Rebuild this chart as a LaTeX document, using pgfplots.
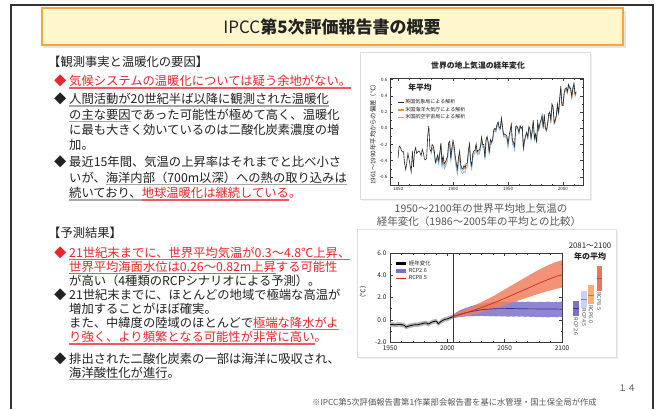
\documentclass[border=0pt]{standalone}
\usepackage{fontspec}
\setmainfont{Noto Sans CJK JP}
\usepackage{pgfplots}
\pgfplotsset{compat=1.18}
\usepackage{pgfplotstable}

\definecolor{txt}{HTML}{222222}
\definecolor{jred}{HTML}{E8262C}
\definecolor{jredul}{HTML}{EC5A60}
\definecolor{ulgray}{HTML}{A8A8A8}
\definecolor{titlefill}{HTML}{FFF7CC}
\definecolor{titledraw}{HTML}{F5A640}
\definecolor{capgray}{HTML}{555555}
\definecolor{frame}{HTML}{333333}
\definecolor{boxgray}{HTML}{DDDDDD}
\definecolor{axgray}{HTML}{3A3A3A}
\definecolor{hadc}{HTML}{2A2A2A}
\definecolor{noaac}{HTML}{F08C3C}
\definecolor{gissc}{HTML}{78B8EC}
\definecolor{histband}{HTML}{B4B4B4}
\definecolor{c26fill}{HTML}{8E86D0}
\definecolor{c26line}{HTML}{34309A}
\definecolor{c85fill}{HTML}{F08060}
\definecolor{c85line}{HTML}{D42A1E}
\definecolor{b26}{HTML}{7D72C0}
\definecolor{b45}{HTML}{C4D4F0}
\definecolor{b60}{HTML}{F6B074}
\definecolor{b85}{HTML}{EE7358}

\newcommand\fs[1]{\fontsize{#1}{#1}\selectfont}
\newcommand\ug[1]{\setbox0\hbox{#1}\rlap{\color{ulgray}\rule[-3pt]{\wd0}{1.6pt}}\box0}
\newcommand\ur[1]{\setbox0\hbox{\color{jred}#1}\rlap{\color{jredul}\rule[-3pt]{\wd0}{1.6pt}}\box0}

\pgfplotstableread{
year had noaa giss
1850 -0.37 nan nan
1851 -0.22 nan nan
1852 -0.23 nan nan
1853 -0.27 nan nan
1854 -0.29 nan nan
1855 -0.29 nan nan
1856 -0.44 nan nan
1857 -0.51 nan nan
1858 -0.42 nan nan
1859 -0.31 nan nan
1860 -0.38 nan nan
1861 -0.46 nan nan
1862 -0.54 nan nan
1863 -0.28 nan nan
1864 -0.48 nan nan
1865 -0.29 nan nan
1866 -0.24 nan nan
1867 -0.31 nan nan
1868 -0.29 nan nan
1869 -0.28 nan nan
1870 -0.30 nan nan
1871 -0.34 nan nan
1872 -0.26 nan nan
1873 -0.30 nan nan
1874 -0.38 nan nan
1875 -0.39 nan nan
1876 -0.37 nan nan
1877 -0.09 nan nan
1878 0.03 nan nan
1879 -0.26 nan nan
1880 -0.29 -0.31 -0.33
1881 -0.20 -0.24 -0.25
1882 -0.22 -0.25 -0.27
1883 -0.28 -0.31 -0.32
1884 -0.42 -0.40 -0.43
1885 -0.38 -0.39 -0.41
1886 -0.33 -0.36 -0.37
1887 -0.40 -0.43 -0.45
1888 -0.30 -0.32 -0.33
1889 -0.18 -0.20 -0.22
1890 -0.43 -0.45 -0.48
1891 -0.34 -0.37 -0.40
1892 -0.44 -0.47 -0.50
1893 -0.42 -0.45 -0.48
1894 -0.38 -0.41 -0.44
1895 -0.35 -0.37 -0.40
1896 -0.18 -0.20 -0.24
1897 -0.16 -0.19 -0.22
1898 -0.37 -0.39 -0.42
1899 -0.24 -0.26 -0.29
1900 -0.15 -0.18 -0.21
1901 -0.22 -0.25 -0.28
1902 -0.34 -0.37 -0.41
1903 -0.43 -0.46 -0.50
1904 -0.50 -0.53 -0.57
1905 -0.36 -0.39 -0.43
1906 -0.28 -0.31 -0.35
1907 -0.45 -0.48 -0.52
1908 -0.49 -0.51 -0.55
1909 -0.50 -0.52 -0.56
1910 -0.46 -0.49 -0.53
1911 -0.49 -0.51 -0.55
1912 -0.43 -0.46 -0.49
1913 -0.43 -0.45 -0.48
1914 -0.27 -0.29 -0.32
1915 -0.19 -0.22 -0.25
1916 -0.40 -0.42 -0.45
1917 -0.46 -0.48 -0.51
1918 -0.31 -0.34 -0.37
1919 -0.28 -0.30 -0.33
1920 -0.27 -0.29 -0.31
1921 -0.19 -0.22 -0.24
1922 -0.29 -0.31 -0.33
1923 -0.27 -0.29 -0.31
1924 -0.27 -0.30 -0.32
1925 -0.22 -0.24 -0.26
1926 -0.11 -0.13 -0.15
1927 -0.20 -0.22 -0.24
1928 -0.20 -0.22 -0.23
1929 -0.36 -0.37 -0.39
1930 -0.14 -0.16 -0.17
1931 -0.10 -0.12 -0.13
1932 -0.17 -0.18 -0.19
1933 -0.30 -0.31 -0.33
1934 -0.14 -0.16 -0.17
1935 -0.17 -0.18 -0.20
1936 -0.14 -0.15 -0.16
1937 -0.02 -0.04 -0.05
1938 0.00 -0.02 -0.03
1939 -0.02 -0.03 -0.05
1940 0.05 0.03 0.02
1941 0.08 0.06 0.05
1942 0.01 0.00 -0.02
1943 0.00 -0.01 -0.02
1944 0.13 0.11 0.09
1945 0.02 0.00 -0.02
1946 -0.08 -0.09 -0.11
1947 -0.07 -0.08 -0.10
1948 -0.08 -0.10 -0.12
1949 -0.10 -0.12 -0.14
1950 -0.19 -0.21 -0.24
1951 -0.09 -0.11 -0.13
1952 -0.02 -0.04 -0.06
1953 0.05 0.03 0.01
1954 -0.16 -0.18 -0.20
1955 -0.17 -0.19 -0.22
1956 -0.22 -0.24 -0.27
1957 0.02 0.00 -0.02
1958 0.03 0.02 0.01
1959 0.00 -0.01 -0.02
1960 -0.05 -0.06 -0.07
1961 0.03 0.02 0.02
1962 0.00 -0.01 -0.01
1963 0.02 0.01 0.01
1964 -0.24 -0.25 -0.27
1965 -0.15 -0.16 -0.18
1966 -0.09 -0.10 -0.11
1967 -0.05 -0.06 -0.07
1968 -0.11 -0.12 -0.13
1969 0.02 0.01 0.00
1970 -0.01 -0.02 -0.03
1971 -0.12 -0.13 -0.14
1972 -0.03 -0.04 -0.05
1973 0.10 0.08 0.07
1974 -0.12 -0.13 -0.15
1975 -0.07 -0.08 -0.09
1976 -0.17 -0.18 -0.19
1977 0.08 0.06 0.05
1978 -0.01 -0.02 -0.03
1979 0.06 0.04 0.03
1980 0.10 0.08 0.10
1981 0.16 0.13 0.15
1982 0.01 -0.01 0.00
1983 0.17 0.14 0.15
1984 0.00 -0.02 -0.01
1985 -0.02 -0.04 -0.03
1986 0.05 0.03 0.04
1987 0.18 0.15 0.16
1988 0.20 0.17 0.20
1989 0.10 0.08 0.10
1990 0.30 0.27 0.29
1991 0.26 0.23 0.26
1992 0.07 0.05 0.06
1993 0.10 0.08 0.10
1994 0.17 0.14 0.16
1995 0.30 0.27 0.29
1996 0.18 0.16 0.18
1997 0.37 0.35 0.34
1998 0.52 0.50 0.49
1999 0.29 0.28 0.30
2000 0.28 0.28 0.29
2001 0.43 0.41 0.42
2002 0.49 0.46 0.48
2003 0.50 0.48 0.48
2004 0.45 0.43 0.44
2005 0.54 0.51 0.54
2006 0.50 0.49 0.51
2007 0.49 0.46 0.51
2008 0.39 0.37 0.38
2009 0.50 0.47 0.50
2010 0.55 0.53 0.56
2011 0.42 0.39 0.42
2012 0.45 0.43 0.45
}\tempdata

\pgfplotstableread{
year mean
1950 -0.45
1952 -0.42
1954 -0.46
1956 -0.44
1958 -0.42
1960 -0.44
1962 -0.48
1963 -0.56
1964 -0.66
1965 -0.62
1966 -0.58
1968 -0.52
1970 -0.48
1972 -0.44
1974 -0.45
1976 -0.40
1978 -0.35
1980 -0.30
1982 -0.30
1983 -0.38
1984 -0.36
1986 -0.24
1988 -0.16
1990 -0.12
1991 -0.18
1992 -0.36
1993 -0.30
1994 -0.18
1996 -0.06
1998 0.04
2000 0.08
2002 0.16
2004 0.24
2005 0.28
}\histdata

\pgfplotstableread{
year r26 r85
2005 0.30 0.30
2010 0.45 0.45
2015 0.60 0.60
2020 0.72 0.75
2025 0.82 0.92
2030 0.90 1.10
2035 0.95 1.30
2040 0.98 1.50
2045 1.00 1.70
2050 1.00 1.92
2055 1.01 2.15
2060 1.00 2.38
2065 0.99 2.60
2070 0.98 2.82
2075 0.98 3.05
2080 0.97 3.28
2085 0.97 3.50
2090 0.96 3.70
2095 0.96 3.90
2100 0.95 4.05
}\projdata

\begin{document}
\begin{tikzpicture}
\begin{scope}[x=1pt,y=-1pt]
\fill[white] (0,0) rectangle (661,409);
\draw[color=frame, line width=1.3] (11,409) -- (11,5) -- (653,5) -- (653,409);
% title
\fill[black!10] (44,10.5) rectangle (625.5,47.5);
\draw[fill=titlefill, draw=titledraw, line width=1.4] (42,8) rectangle (623,45);
\node[font=\fs{17}, text=txt] at (332,26.5) {IPCC{\bfseries 第5次評価報告書の概要}};
% chart boxes
\fill[black!6] (361.5,53.5) rectangle (591.5,200.5);
\draw[draw=boxgray, fill=white] (360,52) rectangle (590,199);
\fill[black!6] (358.5,230.5) rectangle (617.5,358.5);
\draw[draw=boxgray, fill=white] (357,229) rectangle (616,357);

\begin{scope}[every node/.style={anchor=base west, inner sep=0pt, font=\fs{12.3}, text=txt}]
% block 1
\node at (48,66.7) {【観測事実と温暖化の要因】};
\node[text=jred] at (54,85.7) {◆};
\node at (69,85.7) {\ur{気候システムの温暖化については疑う余地がない。}};
\node at (54,103.7) {◆};
\node at (69,103.7) {\ug{人間活動が20世紀半ば以降に観測された温暖化}};
\node at (69,119.1) {\ug{の主な要因}であった可能性が極めて高く、温暖化};
\node at (69,134.5) {に最も大きく効いているのは二酸化炭素濃度の増};
\node at (69,149.9) {加。};
\node at (54,166.7) {◆};
\node at (69,166.7) {最近15年間、気温の上昇率はそれまでと比べ小さ};
\node at (69,182.2) {いが、\ug{海洋内部（700m以深）への熱の取り込みは}};
\node at (69,197.7) {\ug{続いており、}\ur{地球温暖化は継続している}。};
% block 2
\node at (48,237.4) {【予測結果】};
\node[text=jred] at (54,257.4) {◆};
\node at (69,257.4) {\ur{21世紀末までに、世界平均気温が0.3～4.8℃上昇、}};
\node at (69,271.2) {\ur{世界平均海面水位は0.26～0.82m上昇}する可能性};
\node at (69,285.4) {が高い（4種類のRCPシナリオによる予測）。};
\node at (54,299.0) {◆};
\node at (69,299.0) {21世紀末までに、ほとんどの地域で極端な高温が};
\node at (69,313.0) {増加することがほぼ確実。};
\node at (69,327.4) {また、中緯度の陸域のほとんどで\ur{極端な降水がよ}};
\node at (69,341.7) {\ur{り強く、より頻繁となる可能性が非常に高い}。};
\node at (54,363.0) {◆};
\node at (69,363.0) {排出された二酸化炭素の一部は海洋に吸収され、};
\node at (69,377.4) {\ug{海洋酸性化が進行}。};
\end{scope}

% captions and small texts
\node[font=\fs{10.5}, text=capgray] at (481,209) {1950～2100年の世界平均地上気温の};
\node[font=\fs{10.5}, text=capgray] at (479,221.5) {経年変化（1986～2005年の平均との比較）};
\node[font=\fs{8.3}, text=capgray, anchor=west, inner sep=0pt] at (312,402) {※IPCC第5次評価報告書第1作業部会報告書を基に水管理・国土保全局が作成};
\node[font=\fs{9}, text=capgray] at (627,388) {１４};
\node[font=\bfseries\fs{7.8}, text=txt] at (478,66) {世界の地上気温の経年変化};
\node[font=\bfseries\fs{7.8}, text=txt] at (420,88) {年平均};
\node[font=\fs{6.3}, text=txt, rotate=90] at (373,133) {1961～1990年平均からの偏差（℃）};
\node[font=\fs{6.5}, text=txt, rotate=90] at (363,292) {（℃）};
\node[font=\fs{7.8}, text=txt] at (590,246) {2081～2100};
\node[font=\bfseries\fs{8}, text=txt] at (590,256.5) {年の平均};
\end{scope}

% ---------- top chart ----------
\begin{axis}[
  at={(390pt,-185pt)}, anchor=south west, scale only axis,
  width=193pt, height=107pt,
  xmin=1842.7, xmax=2018.2, ymin=-0.7, ymax=0.62,
  xtick={1850,1900,1950,2000},
  minor xtick={1860,1870,1880,1890,1910,1920,1930,1940,1960,1970,1980,1990,2010},
  ytick={-0.6,-0.4,-0.2,0,0.2,0.4,0.6},
  minor ytick={-0.5,-0.3,-0.1,0.1,0.3,0.5},
  tick pos=both, tick align=inside,
  major tick length=3pt, minor tick length=1.5pt,
  axis line style={color=axgray, line width=0.8pt},
  every tick/.style={color=axgray, line width=0.5pt},
  tick label style={font=\fs{4.5}, text=txt},
  xticklabel style={/pgf/number format/1000 sep={}, yshift=1pt},
  yticklabel style={/pgf/number format/fixed, /pgf/number format/precision=1, /pgf/number format/fixed zerofill, xshift=1pt},
  /pgf/number format/assume math mode=true,
  unbounded coords=jump,
  legend style={at={(rel axis cs:0.036,0.81)}, anchor=north west, draw=none, fill=none,
    font=\fs{5}, row sep=0.6pt, inner sep=0.5pt, nodes={inner sep=0.6pt, text=txt}},
  legend cell align=left,
  legend image code/.code={\draw[#1] (0pt,0pt) -- (6pt,0pt);},
]
\addplot[noaac, line width=0.6pt, forget plot] table[x=year, y=noaa] {\tempdata};
\addplot[gissc, line width=0.6pt, forget plot] table[x=year, y=giss] {\tempdata};
\addplot[hadc, line width=0.6pt, forget plot] table[x=year, y=had] {\tempdata};
\addlegendimage{hadc, line width=1.2pt}
\addlegendentry{英国気象局による解析}
\addlegendimage{noaac, line width=1.2pt}
\addlegendentry{米国海洋大気庁による解析}
\addlegendimage{gissc, line width=1.2pt}
\addlegendentry{米国航空宇宙局による解析}
\end{axis}

% ---------- bottom chart ----------
\begin{axis}[
  at={(390pt,-342pt)}, anchor=south west, scale only axis,
  width=172pt, height=89pt,
  xmin=1950, xmax=2100, ymin=-2, ymax=6, clip=false,
  xtick={1950,2000,2050,2100},
  minor xtick={1960,1970,1980,1990,2010,2020,2030,2040,2060,2070,2080,2090},
  ytick={-2,0,2,4,6},
  minor ytick={-1,1,3,5},
  tick pos=both, tick align=inside,
  major tick length=3pt, minor tick length=1.5pt,
  axis line style={color=axgray, line width=0.9pt},
  every tick/.style={color=axgray, line width=0.5pt},
  tick label style={font=\fs{6.5}, text=txt},
  xticklabel style={/pgf/number format/1000 sep={}},
  yticklabel style={/pgf/number format/fixed, /pgf/number format/precision=1, /pgf/number format/fixed zerofill},
  /pgf/number format/assume math mode=true,
  legend style={at={(rel axis cs:0.023,0.93)}, anchor=north west, draw=none, fill=none,
    font=\fs{5.5}, row sep=0.4pt, inner sep=0.5pt, nodes={inner sep=0.6pt, text=txt}},
  legend cell align=left,
  legend image code/.code={\draw[#1] (0pt,0pt) -- (10pt,0pt);},
]
% historical band
\addplot[fill=histband, draw=none, forget plot] coordinates {
 (1950,-0.25) (1952,-0.22) (1954,-0.26) (1956,-0.24) (1958,-0.22) (1960,-0.24) (1962,-0.28) (1963,-0.36) (1964,-0.45) (1965,-0.42) (1966,-0.38) (1968,-0.32) (1970,-0.28) (1972,-0.24) (1974,-0.25) (1976,-0.20) (1978,-0.15) (1980,-0.10) (1982,-0.10) (1983,-0.18) (1984,-0.16) (1986,-0.05) (1988,0.04) (1990,0.08) (1991,0.02) (1992,-0.16) (1993,-0.10) (1994,0.02) (1996,0.14) (1998,0.24) (2000,0.28) (2002,0.36) (2004,0.44) (2005,0.48)
 (2005,0.10) (2004,0.05) (2002,-0.04) (2000,-0.12) (1998,-0.16) (1996,-0.26) (1994,-0.38) (1993,-0.50) (1992,-0.56) (1991,-0.38) (1990,-0.32) (1988,-0.36) (1986,-0.44) (1984,-0.56) (1983,-0.58) (1982,-0.50) (1980,-0.50) (1978,-0.55) (1976,-0.60) (1974,-0.65) (1972,-0.64) (1970,-0.68) (1968,-0.72) (1966,-0.78) (1965,-0.82) (1964,-0.86) (1963,-0.76) (1962,-0.68) (1960,-0.64) (1958,-0.62) (1956,-0.64) (1954,-0.66) (1952,-0.62) (1950,-0.65)
} --cycle;
% RCP2.6 band
\addplot[fill=c26fill, draw=none, forget plot] coordinates {
 (2005,0.45) (2008,0.68) (2010,0.8) (2012,0.9) (2014,0.98) (2016,1.06) (2018,1.12) (2020,1.2) (2022,1.26) (2024,1.32) (2026,1.36) (2028,1.4) (2030,1.45) (2032,1.48) (2034,1.5) (2036,1.53) (2038,1.55) (2040,1.6) (2043,1.57) (2045,1.62) (2048,1.6) (2050,1.63) (2053,1.58) (2055,1.63) (2058,1.6) (2060,1.65) (2063,1.6) (2065,1.62) (2068,1.58) (2070,1.64) (2073,1.59) (2075,1.6) (2078,1.57) (2080,1.62) (2083,1.6) (2085,1.58) (2088,1.63) (2090,1.6) (2093,1.57) (2095,1.62) (2098,1.6) (2100,1.66)
 (2100,0.24) (2098,0.28) (2095,0.22) (2093,0.26) (2090,0.25) (2088,0.21) (2085,0.26) (2083,0.23) (2080,0.27) (2078,0.24) (2075,0.28) (2073,0.25) (2070,0.29) (2068,0.26) (2065,0.3) (2063,0.27) (2060,0.31) (2058,0.28) (2055,0.3) (2053,0.27) (2050,0.31) (2048,0.29) (2045,0.32) (2043,0.3) (2040,0.33) (2038,0.31) (2035,0.34) (2033,0.32) (2030,0.35) (2028,0.33) (2025,0.34) (2023,0.32) (2020,0.33) (2018,0.3) (2015,0.29) (2013,0.27) (2010,0.24) (2008,0.2) (2005,0.14)
} --cycle;
% RCP8.5 band
\addplot[fill=c85fill, fill opacity=0.85, draw=none, forget plot] coordinates {
 (2005,0.45) (2010,0.7) (2015,0.9) (2020,1.12) (2025,1.36) (2030,1.6) (2035,1.86) (2040,2.12) (2045,2.42) (2050,2.72) (2055,3.02) (2060,3.32) (2065,3.62) (2070,3.92) (2075,4.22) (2080,4.5) (2085,4.76) (2090,5.0) (2095,5.2) (2100,5.36)
 (2100,2.9) (2095,2.78) (2090,2.64) (2085,2.5) (2080,2.34) (2075,2.18) (2070,2.0) (2065,1.84) (2060,1.66) (2055,1.48) (2050,1.3) (2045,1.14) (2040,0.99) (2035,0.84) (2030,0.7) (2025,0.56) (2020,0.45) (2015,0.35) (2010,0.25) (2005,0.15)
} --cycle;
\addplot[black, line width=0.8pt, forget plot] table[x=year, y=mean] {\histdata};
\addplot[c26line, line width=0.7pt, forget plot] table[x=year, y=r26] {\projdata};
\addplot[c85line, line width=0.7pt, forget plot] table[x=year, y=r85] {\projdata};
\addplot[axgray, line width=0.8pt, forget plot] coordinates {(2005,-2) (2005,6)};
% 2081-2100 bars
\addplot[fill=b26, draw=none, forget plot] coordinates {(2110.0,0.3) (2114.4,0.3) (2114.4,1.7) (2110.0,1.7)} --cycle;
\addplot[c26line, line width=0.6pt, forget plot] coordinates {(2110.0,1.0) (2114.4,1.0)};
\addplot[fill=b45, draw=none, forget plot] coordinates {(2117.0,1.1) (2121.4,1.1) (2121.4,2.6) (2117.0,2.6)} --cycle;
\addplot[black!35!b45, line width=0.6pt, forget plot] coordinates {(2117.0,1.8) (2121.4,1.8)};
\addplot[fill=b60, draw=none, forget plot] coordinates {(2123.1,1.4) (2127.5,1.4) (2127.5,3.1) (2123.1,3.1)} --cycle;
\addplot[black!30!b60, line width=0.6pt, forget plot] coordinates {(2123.1,2.2) (2127.5,2.2)};
\addplot[fill=b85, draw=none, forget plot] coordinates {(2130.1,2.6) (2134.5,2.6) (2134.5,4.8) (2130.1,4.8)} --cycle;
\addplot[black!30!b85, line width=0.6pt, forget plot] coordinates {(2130.1,3.7) (2134.5,3.7)};
\node[rotate=-90, anchor=west, font=\fs{5.5}, text=capgray, inner sep=1pt] at (axis cs:2112.2,0.3) {RCP2.6};
\node[rotate=-90, anchor=west, font=\fs{5.5}, text=capgray, inner sep=1pt] at (axis cs:2119.2,1.1) {RCP4.5};
\node[rotate=-90, anchor=west, font=\fs{5.5}, text=capgray, inner sep=1pt] at (axis cs:2125.3,1.4) {RCP6.0};
\node[rotate=-90, anchor=west, font=\fs{5.5}, text=capgray, inner sep=1pt] at (axis cs:2132.3,2.6) {RCP8.5};
\addlegendimage{black, line width=2.5pt}
\addlegendentry{経年変化}
\addlegendimage{b26, line width=3.5pt}
\addlegendentry{RCP2.6}
\addlegendimage{c85line, line width=0.9pt}
\addlegendentry{RCP8.5}
\end{axis}
\end{tikzpicture}
\end{document}
